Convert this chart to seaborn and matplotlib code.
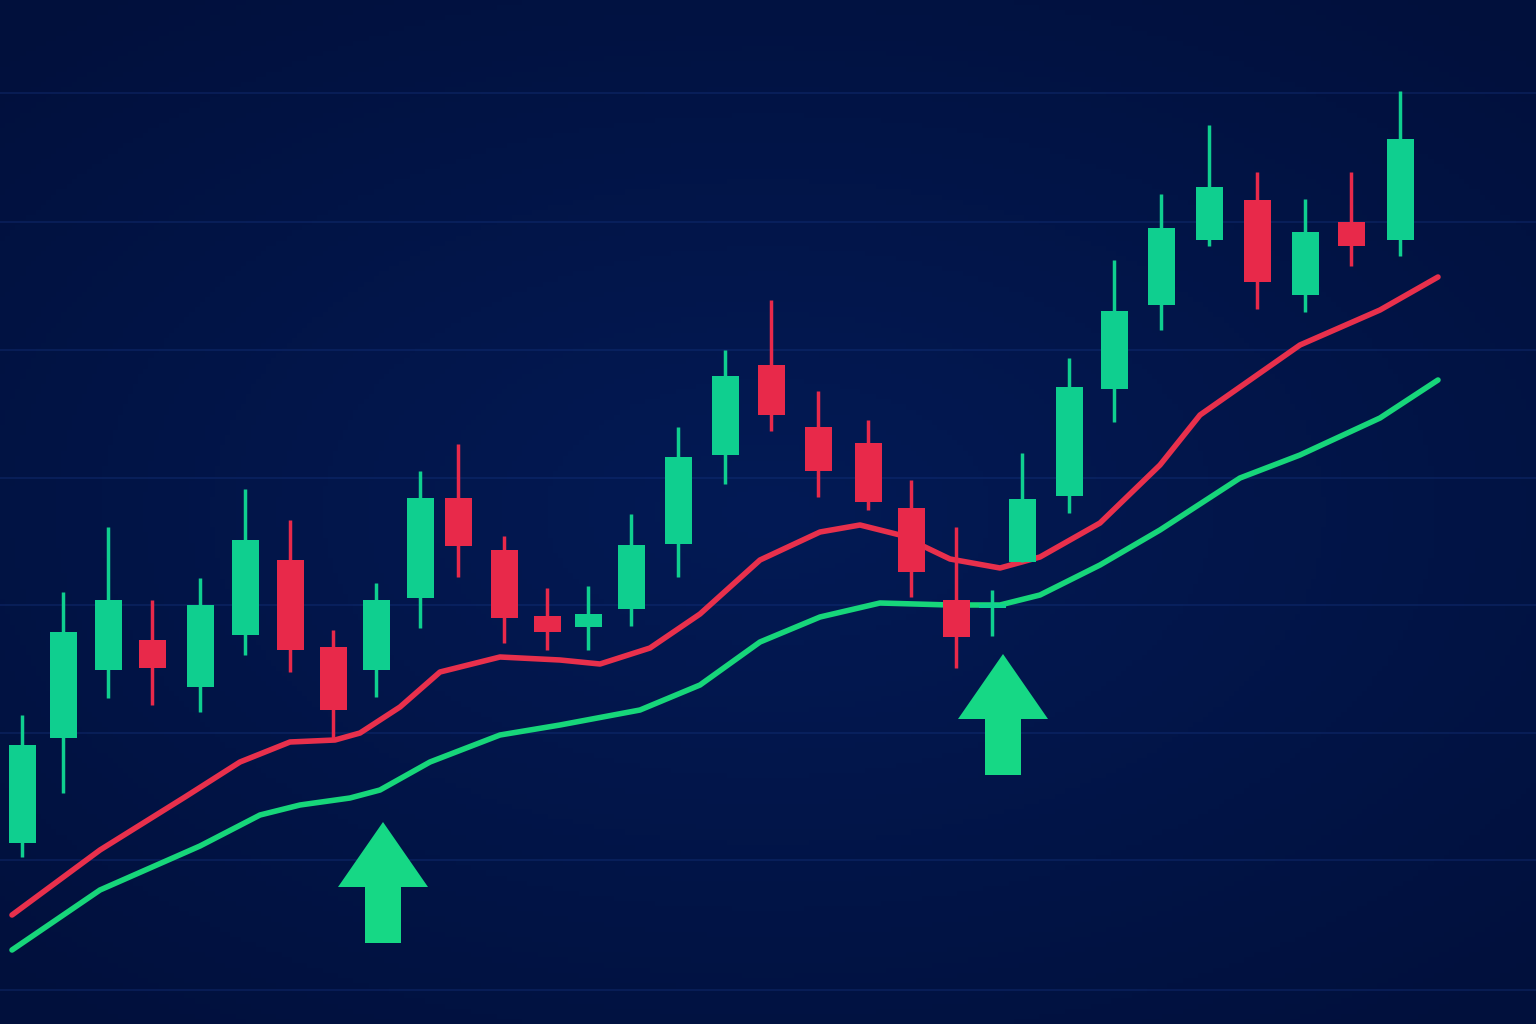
import numpy as np
import pandas as pd
import matplotlib
matplotlib.use("Agg")
import matplotlib.pyplot as plt
import seaborn as sns
from matplotlib.patches import Polygon

# candle data (value scale: screen-like, larger = lower on chart)
cx = [22, 63, 108, 152, 200, 245, 290, 333, 376, 420, 458, 504, 547, 588, 631, 678,
      725, 771, 818, 868, 911, 956, 992, 1022, 1069, 1114, 1161, 1209, 1257, 1305, 1351, 1400]
body_top = [745, 632, 600, 640, 605, 540, 560, 647, 600, 498, 498, 550, 616, 614, 545, 457,
            376, 365, 427, 443, 508, 600, 604, 499, 387, 311, 228, 187, 200, 232, 222, 139]
body_bot = [843, 738, 670, 668, 687, 635, 650, 710, 670, 598, 546, 618, 632, 627, 609, 544,
            455, 415, 471, 502, 572, 637, 608, 562, 496, 389, 305, 240, 282, 295, 246, 240]
wick_top = [715, 592, 527, 600, 578, 489, 520, 630, 583, 471, 444, 536, 588, 586, 514, 427,
            350, 300, 391, 420, 480, 527, 590, 453, 358, 260, 194, 125, 172, 199, 172, 91]
wick_bot = [857, 793, 698, 705, 712, 655, 672, 738, 697, 628, 577, 643, 650, 650, 626, 577,
            484, 431, 497, 510, 597, 668, 636, 562, 513, 422, 330, 246, 309, 312, 266, 256]
up = [1, 1, 1, 0, 1, 1, 0, 0, 1, 1, 0, 0, 0, 1, 1, 1, 1, 0, 0, 0, 0, 0, 1, 1, 1, 1, 1, 1, 0, 1, 0, 1]

ma_red_x = [12, 100, 185, 240, 290, 335, 360, 400, 440, 500, 560, 600, 650, 700, 760, 820, 860,
            900, 950, 1000, 1040, 1100, 1160, 1200, 1300, 1380, 1438]
ma_red_y = [915, 850, 797, 762, 742, 740, 733, 707, 672, 657, 660, 664, 648, 614, 560, 532, 525,
            535, 559, 568, 557, 523, 465, 415, 345, 310, 277]
ma_grn_x = [12, 100, 200, 260, 300, 350, 380, 430, 500, 560, 640, 700, 760, 820, 880, 950, 1000,
            1040, 1100, 1160, 1240, 1300, 1380, 1438]
ma_grn_y = [950, 890, 846, 815, 805, 798, 790, 762, 735, 725, 710, 685, 642, 617, 603, 605, 605,
            595, 565, 530, 478, 455, 418, 380]

arrow_x = [383, 1003]
arrow_tip = [822, 654]
grid_y = [93, 222, 350, 478, 605, 733, 860, 990]

GREEN = "#0fcf8f"
RED = "#e8294a"
BG = "#02184f"

sns.set_theme(style="white")
fig = plt.figure(figsize=(15.36, 10.24), dpi=100)
ax = fig.add_axes([0, 0, 1, 1])

gx = np.linspace(-1, 1, 300)
gy = np.linspace(-1, 1, 200)
GX, GY = np.meshgrid(gx, gy)
r = np.sqrt(GX**2 * 0.8 + GY**2)
base = np.array([0x03, 0x1a, 0x55]) / 255
edge = np.array([0x01, 0x10, 0x3c]) / 255
t = np.clip(r / 1.3, 0, 1)[..., None]
img = base * (1 - t) + edge * t
ax.imshow(img, extent=[0, 1536, 1024, 0], aspect="auto", zorder=0)

for g in grid_y:
    ax.axhline(g, color="#1a3a8a", lw=1.2, alpha=0.35, zorder=1)

df_r = pd.DataFrame({"x": ma_red_x, "y": ma_red_y})
df_g = pd.DataFrame({"x": ma_grn_x, "y": ma_grn_y})
sns.lineplot(data=df_r, x="x", y="y", ax=ax, color="#e8304c", lw=4, zorder=3, sort=False,
             solid_joinstyle="round", solid_capstyle="round")
sns.lineplot(data=df_g, x="x", y="y", ax=ax, color="#17d67a", lw=4, zorder=3, sort=False,
             solid_joinstyle="round", solid_capstyle="round")

for x, bt, bb, wt, wb, u in zip(cx, body_top, body_bot, wick_top, wick_bot, up):
    c = GREEN if u else RED
    ax.vlines(x, wt, wb, color=c, lw=2.5, zorder=4)
    ax.bar(x, bb - bt, bottom=bt, width=27, color=c, edgecolor=c, linewidth=0, zorder=5)

for x, tip in zip(arrow_x, arrow_tip):
    pts = [(x, tip), (x + 45, tip + 65), (x + 18, tip + 65), (x + 18, tip + 121),
           (x - 18, tip + 121), (x - 18, tip + 65), (x - 45, tip + 65)]
    ax.add_patch(Polygon(pts, closed=True, facecolor="#16d885", edgecolor="none", zorder=6))

ax.set_xlim(0, 1536)
ax.set_ylim(1024, 0)
ax.axis("off")
fig.savefig("out.png", dpi=100, facecolor=BG)
